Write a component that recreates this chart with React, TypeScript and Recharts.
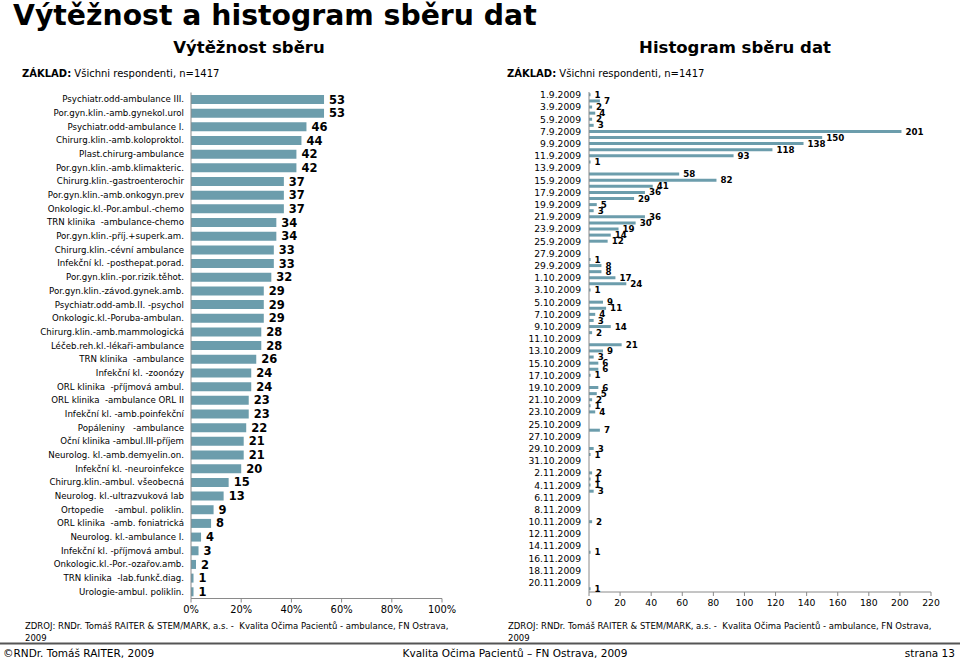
import React from 'react';
import { BarChart, Bar, XAxis, YAxis, LabelList } from 'recharts';

const FONT = '"DejaVu Sans", Verdana, sans-serif';
const BAR_COLOR = '#6c9dac';
const AXIS_COLOR = '#8a8a8a';

const clinics = [
  'Psychiatr.odd-ambulance III.',
  'Por.gyn.klin.-amb.gynekol.urol',
  'Psychiatr.odd-ambulance I.',
  'Chirurg.klin.-amb.koloproktol.',
  'Plast.chirurg-ambulance',
  'Por.gyn.klin.-amb.klimakteric.',
  'Chirurg.klin.-gastroenterochir',
  'Por.gyn.klin.-amb.onkogyn.prev',
  'Onkologic.kl.-Por.ambul.-chemo',
  'TRN klinika  -ambulance-chemo',
  'Por.gyn.klin.-příj.+superk.am.',
  'Chirurg.klin.-cévní ambulance',
  'Infekční kl. -posthepat.porad.',
  'Por.gyn.klin.-por.rizik.těhot.',
  'Por.gyn.klin.-závod.gynek.amb.',
  'Psychiatr.odd-amb.II. -psychol',
  'Onkologic.kl.-Poruba-ambulan.',
  'Chirurg.klin.-amb.mammologická',
  'Léčeb.reh.kl.-lékaři-ambulance',
  'TRN klinika  -ambulance',
  'Infekční kl. -zoonózy',
  'ORL klinika  -příjmová ambul.',
  'ORL klinika  -ambulance ORL II',
  'Infekční kl. -amb.poinfekční',
  'Popáleniny   -ambulance',
  'Oční klinika -ambul.III-příjem',
  'Neurolog. kl.-amb.demyelin.on.',
  'Infekční kl. -neuroinfekce',
  'Chirurg.klin.-ambul. všeobecná',
  'Neurolog. kl.-ultrazvuková lab',
  'Ortopedie    -ambul. poliklin.',
  'ORL klinika  -amb. foniatrická',
  'Neurolog. kl.-ambulance I.',
  'Infekční kl. -příjmová ambul.',
  'Onkologic.kl.-Por.-ozařov.amb.',
  'TRN klinika  -lab.funkč.diag.',
  'Urologie-ambul. poliklin.',
];

const clinicValues = [
  53, 53, 46, 44, 42, 42, 37, 37, 37, 34, 34, 33, 33, 32, 29, 29, 29, 28, 28,
  26, 24, 24, 23, 23, 22, 21, 21, 20, 15, 13, 9, 8, 4, 3, 2, 1, 1,
];

const pctTicks = [0, 20, 40, 60, 80, 100];

const dates = [
  '1.9.2009', '2.9.2009', '3.9.2009', '4.9.2009', '5.9.2009', '6.9.2009', '7.9.2009', '8.9.2009', '9.9.2009', '10.9.2009',
  '11.9.2009', '12.9.2009', '13.9.2009', '14.9.2009', '15.9.2009', '16.9.2009', '17.9.2009', '18.9.2009', '19.9.2009', '20.9.2009',
  '21.9.2009', '22.9.2009', '23.9.2009', '24.9.2009', '25.9.2009', '26.9.2009', '27.9.2009', '28.9.2009', '29.9.2009', '30.9.2009',
  '1.10.2009', '2.10.2009', '3.10.2009', '4.10.2009', '5.10.2009', '6.10.2009', '7.10.2009', '8.10.2009', '9.10.2009', '10.10.2009',
  '11.10.2009', '12.10.2009', '13.10.2009', '14.10.2009', '15.10.2009', '16.10.2009', '17.10.2009', '18.10.2009', '19.10.2009', '20.10.2009',
  '21.10.2009', '22.10.2009', '23.10.2009', '24.10.2009', '25.10.2009', '26.10.2009', '27.10.2009', '28.10.2009', '29.10.2009', '30.10.2009',
  '31.10.2009',
  '1.11.2009', '2.11.2009', '3.11.2009', '4.11.2009', '5.11.2009', '6.11.2009', '7.11.2009', '8.11.2009', '9.11.2009', '10.11.2009',
  '11.11.2009', '12.11.2009', '13.11.2009', '14.11.2009', '15.11.2009', '16.11.2009', '17.11.2009', '18.11.2009', '19.11.2009', '20.11.2009',
  '21.11.2009',
];

const septemberCounts = [1, 7, 2, 4, 2, 3, 201, 150, 138, 118, 93, 1, 0, 58, 82, 41, 36, 29, 5, 3, 36, 30, 19, 14, 12, 0, 0, 1, 8, 8];
const octoberCounts = [17, 24, 1, 0, 9, 11, 4, 3, 14, 2, 0, 21, 9, 3, 6, 6, 1, 0, 6, 5, 2, 1, 4, 0, 0, 7, 0, 0, 3, 1, 0];
const novemberCounts = [0, 2, 1, 1, 3, 0, 0, 0, 0, 2, 0, 0, 0, 0, 1, 0, 0, 0, 0, 0, 1];

const countTicks = [0, 20, 40, 60, 80, 100, 120, 140, 160, 180, 200, 220];

const dailyCounts = [...septemberCounts, ...octoberCounts, ...novemberCounts];
const clinicData = clinics.map((name, i) => ({ name, value: clinicValues[i] }));
const dailyData = dates.map((date, i) => ({ date, count: dailyCounts[i] }));

const ClinicTick = (props: any) => {
  const { x, y, payload } = props;
  return (
    <text x={x} y={y} dy="0.35em" textAnchor="end" fontSize={8.65} fontFamily={FONT} fill="#000" style={{ whiteSpace: 'pre' }}>
      {payload.value}
    </text>
  );
};

const DateTick = (props: any) => {
  const { x, y, payload } = props;
  return (
    <text x={x} y={y} dy="0.35em" textAnchor="end" fontSize={9.2} fontFamily={FONT} fill="#000">
      {payload.value}
    </text>
  );
};

const ZDROJ = 'ZDROJ: RNDr. Tomáš RAITER & STEM/MARK, a.s. -  Kvalita Očima Pacientů - ambulance, FN Ostrava,';

export default function App() {
  return (
    <div style={{ position: 'absolute', left: 0, top: 0, width: 960, height: 661, background: '#fff', overflow: 'hidden' }}>
      <div style={{ position: 'absolute', left: 0, top: 0 }}>
        <BarChart
          width={480}
          height={661}
          data={clinicData}
          layout="vertical"
          margin={{ top: 92.5, right: 38, bottom: 32.5, left: 0 }}
          barCategoryGap="18%"
        >
          <XAxis
            type="number"
            domain={[0, 100]}
            ticks={pctTicks}
            interval={0}
            tickFormatter={(v: number) => v + '%'}
            axisLine={{ stroke: AXIS_COLOR }}
            tickLine={{ stroke: AXIS_COLOR }}
            tickSize={4}
            tickMargin={3}
            height={30}
            tick={{ fontSize: 9.9, fill: '#000', fontFamily: FONT }}
          />
          <YAxis
            type="category"
            dataKey="name"
            width={191}
            interval={0}
            axisLine={{ stroke: AXIS_COLOR }}
            tickLine={false}
            tickSize={0}
            tickMargin={7}
            tick={<ClinicTick />}
          />
          <Bar dataKey="value" fill={BAR_COLOR} isAnimationActive={false}>
            <LabelList
              dataKey="value"
              position="right"
              offset={5}
              fontSize={11.5}
              fontWeight="bold"
              fill="#000"
              fontFamily={FONT}
            />
          </Bar>
        </BarChart>
      </div>
      <div style={{ position: 'absolute', left: 480, top: 0 }}>
        <BarChart
          width={480}
          height={661}
          data={dailyData}
          layout="vertical"
          margin={{ top: 92, right: 29, bottom: 39, left: 0 }}
          barCategoryGap="22%"
        >
          <XAxis
            type="number"
            domain={[0, 220]}
            ticks={countTicks}
            interval={0}
            axisLine={{ stroke: AXIS_COLOR }}
            tickLine={{ stroke: AXIS_COLOR }}
            tickSize={4}
            tickMargin={3}
            height={30}
            tick={{ fontSize: 9.3, fill: '#000', fontFamily: FONT }}
          />
          <YAxis
            type="category"
            dataKey="date"
            width={109}
            interval={1}
            axisLine={{ stroke: AXIS_COLOR }}
            tickLine={false}
            tickSize={0}
            tickMargin={8}
            tick={<DateTick />}
          />
          <Bar dataKey="count" fill={BAR_COLOR} isAnimationActive={false}>
            <LabelList
              dataKey="count"
              position="right"
              offset={4}
              formatter={(v: any) => (v ? v : '')}
              fontSize={8.7}
              fontWeight="bold"
              fill="#000"
              fontFamily={FONT}
            />
          </Bar>
        </BarChart>
      </div>
      <svg width={960} height={661} style={{ position: 'absolute', left: 0, top: 0, pointerEvents: 'none' }} fontFamily={FONT}>
        <text x={13} y={25} fontSize={28.3} fontWeight="bold" fill="#000">Výtěžnost a histogram sběru dat</text>
        <text x={249} y={52.7} fontSize={16.5} fontWeight="bold" fill="#000" textAnchor="middle">Výtěžnost sběru</text>
        <text x={735} y={52.7} fontSize={16.5} fontWeight="bold" fill="#000" textAnchor="middle">Histogram sběru dat</text>
        <text x={22} y={77} fontSize={10} fill="#000">
          <tspan fontWeight="bold">ZÁKLAD:</tspan> Všichni respondenti, n=1417
        </text>
        <text x={507} y={77} fontSize={10} fill="#000">
          <tspan fontWeight="bold">ZÁKLAD:</tspan> Všichni respondenti, n=1417
        </text>
        <text x={25} y={629} fontSize={8.5} fill="#000" style={{ whiteSpace: 'pre' }}>{ZDROJ}</text>
        <text x={25} y={640.5} fontSize={8.5} fill="#000">2009</text>
        <text x={508} y={629} fontSize={8.5} fill="#000" style={{ whiteSpace: 'pre' }}>{ZDROJ}</text>
        <text x={508} y={640.5} fontSize={8.5} fill="#000">2009</text>
        <line x1={0} x2={960} y1={643.5} y2={643.5} stroke="#555" strokeWidth={2} />
        <text x={3} y={657} fontSize={10.5} fill="#000">©RNDr. Tomáš RAITER, 2009</text>
        <text x={515} y={657} fontSize={10.5} fill="#000" textAnchor="middle">Kvalita Očima Pacientů – FN Ostrava, 2009</text>
        <text x={955} y={657} fontSize={10.5} fill="#000" textAnchor="end">strana 13</text>
      </svg>
    </div>
  );
}
